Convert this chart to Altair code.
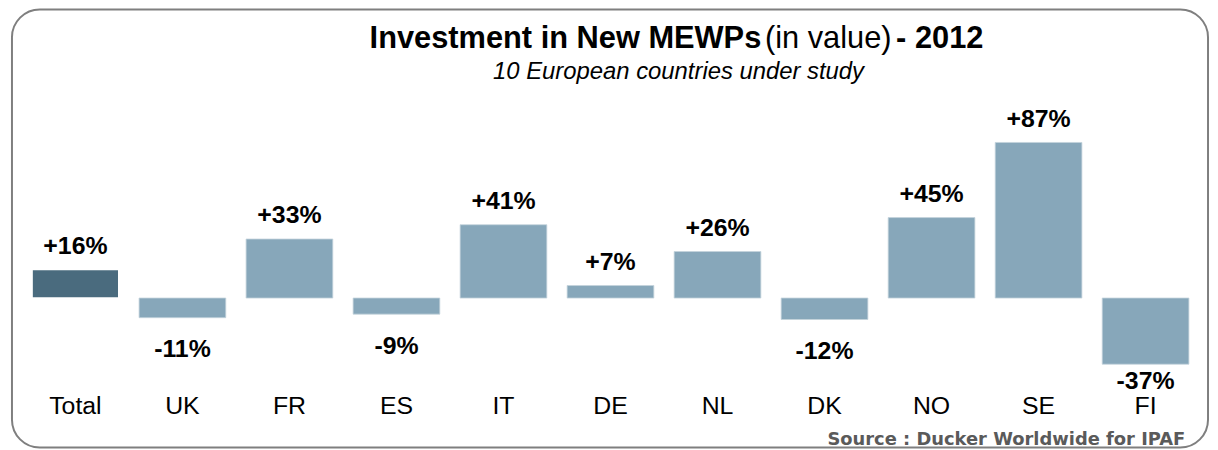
import altair as alt
import pandas as pd

# ---- data ----
categories = ["Total", "UK", "FR", "ES", "IT", "DE", "NL", "DK", "NO", "SE", "FI"]
growth_pct = [16, -11, 33, -9, 41, 7, 26, -12, 45, 87, -37]
kinds = ["total"] + ["country"] * 10

title_parts = ["Investment in New MEWPs", "(in value)", "- 2012"]
subtitle = "10 European countries under study"
source = "Source : Ducker Worldwide for IPAF"

df = pd.DataFrame({
    "cat": categories,
    "val": growth_pct,
    "kind": kinds,
    "label": [f"{v:+d}%" for v in growth_pct],
})

FONT = "Liberation Sans"
H = 441
PX_PER_UNIT = 1.8
ZERO_Y = 290.5

x_enc = alt.X("cat:N", sort=categories, axis=None,
              scale=alt.Scale(range=[10, 1195], paddingInner=0.19, paddingOuter=0.095))
y_scale = alt.Scale(domain=[-(H - ZERO_Y) / PX_PER_UNIT, ZERO_Y / PX_PER_UNIT], nice=False, zero=False)
y_enc = alt.Y("val:Q", scale=y_scale, axis=None)

base = alt.Chart(df)

bars = base.mark_bar().encode(
    x=x_enc,
    y=y_enc,
    y2=alt.datum(0),
    color=alt.Color("kind:N", scale=alt.Scale(domain=["total", "country"],
                                               range=["#4a6b7e", "#87a7ba"]), legend=None),
    stroke=alt.condition("datum.kind == 'total'", alt.value("#ffffff"), alt.value("#c4d3dc")),
    strokeWidth=alt.condition("datum.kind == 'total'", alt.value(1.5), alt.value(0.8)),
)

pos_labels = base.transform_filter("datum.val >= 0").mark_text(
    font=FONT, fontSize=25, fontWeight="bold", baseline="alphabetic", dy=-16
).encode(x=x_enc, y=y_enc, text="label:N")

neg_labels = base.transform_filter("datum.val < 0 && datum.cat != 'FI'").mark_text(
    font=FONT, fontSize=25, fontWeight="bold", baseline="alphabetic", dy=40
).encode(x=x_enc, y=y_enc, text="label:N")

neg_labels_tight = base.transform_filter("datum.cat == 'FI'").mark_text(
    font=FONT, fontSize=25, fontWeight="bold", baseline="alphabetic", dy=25
).encode(x=x_enc, y=y_enc, text="label:N")

cat_labels = base.mark_text(
    font=FONT, fontSize=25, baseline="alphabetic", color="#000000"
).encode(x=x_enc, y=alt.value(407), text="cat:N")

t1 = alt.Chart(pd.DataFrame({"t": [title_parts[0]]})).mark_text(
    font=FONT, fontSize=31, fontWeight="bold", align="left", baseline="alphabetic"
).encode(x=alt.value(360), y=alt.value(39), text="t:N")
t2 = alt.Chart(pd.DataFrame({"t": [title_parts[1]]})).mark_text(
    font=FONT, fontSize=31, fontWeight="normal", align="left", baseline="alphabetic"
).encode(x=alt.value(758), y=alt.value(39), text="t:N")
t3 = alt.Chart(pd.DataFrame({"t": [title_parts[2]]})).mark_text(
    font=FONT, fontSize=31, fontWeight="bold", align="left", baseline="alphabetic"
).encode(x=alt.value(890), y=alt.value(39), text="t:N")
sub = alt.Chart(pd.DataFrame({"t": [subtitle]})).mark_text(
    font=FONT, fontSize=24, fontStyle="italic", align="center", baseline="alphabetic"
).encode(x=alt.value(671), y=alt.value(70), text="t:N")
src = alt.Chart(pd.DataFrame({"t": [source]})).mark_text(
    font="DejaVu Sans", fontSize=18, fontWeight="bold", align="center", baseline="alphabetic",
    color="#5a5a5a"
).encode(x=alt.value(1001), y=alt.value(438), text="t:N")

chart = alt.layer(
    bars, pos_labels, neg_labels, neg_labels_tight, cat_labels, t1, t2, t3, sub, src
).properties(
    width=1204, height=H,
    autosize=alt.AutoSizeParams(type="none"),
    padding={"left": 4, "top": 0, "right": 2, "bottom": 0},
).configure_view(
    stroke="#7f7f7f", strokeWidth=2, cornerRadius=28
)

chart.save("out.html", embed_options={"renderer": "svg", "actions": False})
